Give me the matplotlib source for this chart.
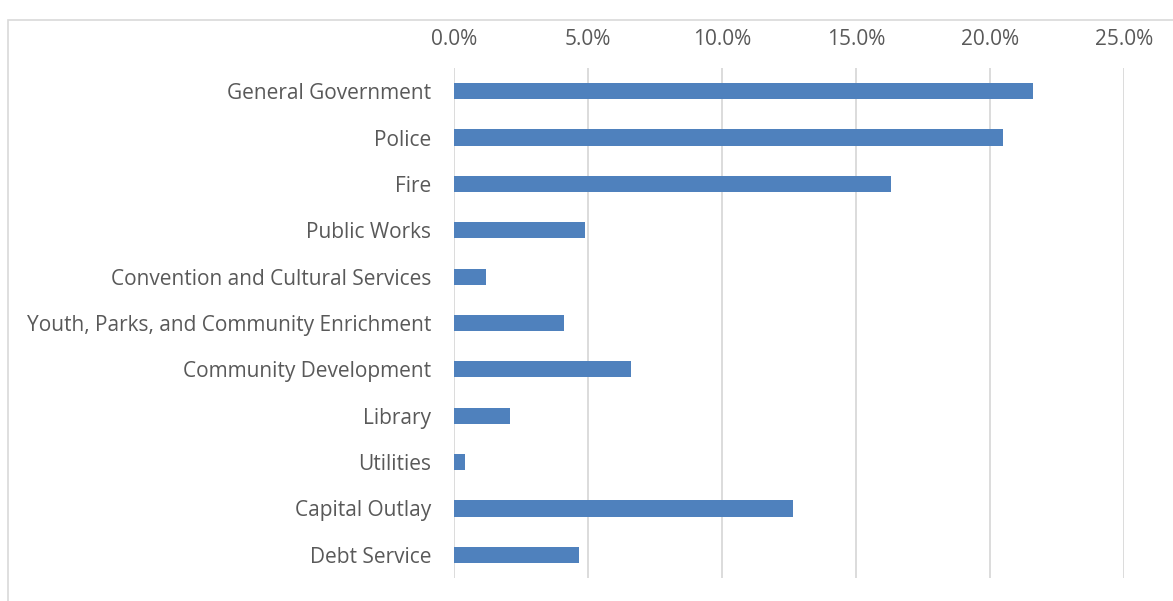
import matplotlib
matplotlib.use("Agg")
import matplotlib.pyplot as plt
from matplotlib.patches import Rectangle
from matplotlib.ticker import FuncFormatter

categories = [
    "General Government",
    "Police",
    "Fire",
    "Public Works",
    "Convention and Cultural Services",
    "Youth, Parks, and Community Enrichment",
    "Community Development",
    "Library",
    "Utilities",
    "Capital Outlay",
    "Debt Service",
]
shares = [21.6, 20.5, 16.3, 4.9, 1.2, 4.1, 6.6, 2.1, 0.4, 12.65, 4.65]
x_ticks = [0, 5, 10, 15, 20, 25]

bar_color = "#4F81BD"
text_color = "#595959"
grid_color = "#D9D9D9"

plt.rcParams["font.family"] = ["Open Sans", "DejaVu Sans"]

W, H = 1173, 601
fig = plt.figure(figsize=(W / 100, H / 100), dpi=100)
ax = fig.add_axes([454 / W, 1 - 578 / H, (1124 - 454) / W, (578 - 68) / H])

# chart area frame
fig.patches.append(Rectangle((8 / W, -0.05), 1.2, 1 - 20 / H + 0.05,
                             transform=fig.transFigure, fill=False,
                             edgecolor=grid_color, linewidth=1.2))

y = list(range(len(categories)))
ax.barh(y, shares, height=0.35, color=bar_color, zorder=3)
ax.set_ylim(len(categories) - 0.5, -0.5)
ax.set_xlim(0, 25)

ax.set_xticks(x_ticks)
ax.xaxis.set_major_formatter(FuncFormatter(lambda v, p: f"{v:.1f}%"))
ax.xaxis.tick_top()
ax.tick_params(axis="x", length=0, pad=13, labelsize=15, labelcolor=text_color)
ax.set_yticks(y)
ax.set_yticklabels(categories, va="center_baseline")
ax.tick_params(axis="y", length=0, pad=16.5, labelsize=15, labelcolor=text_color)

ax.grid(axis="x", color=grid_color, linewidth=1.3, zorder=0)
for s in ax.spines.values():
    s.set_visible(False)

fig.savefig("out.png", dpi=100)
